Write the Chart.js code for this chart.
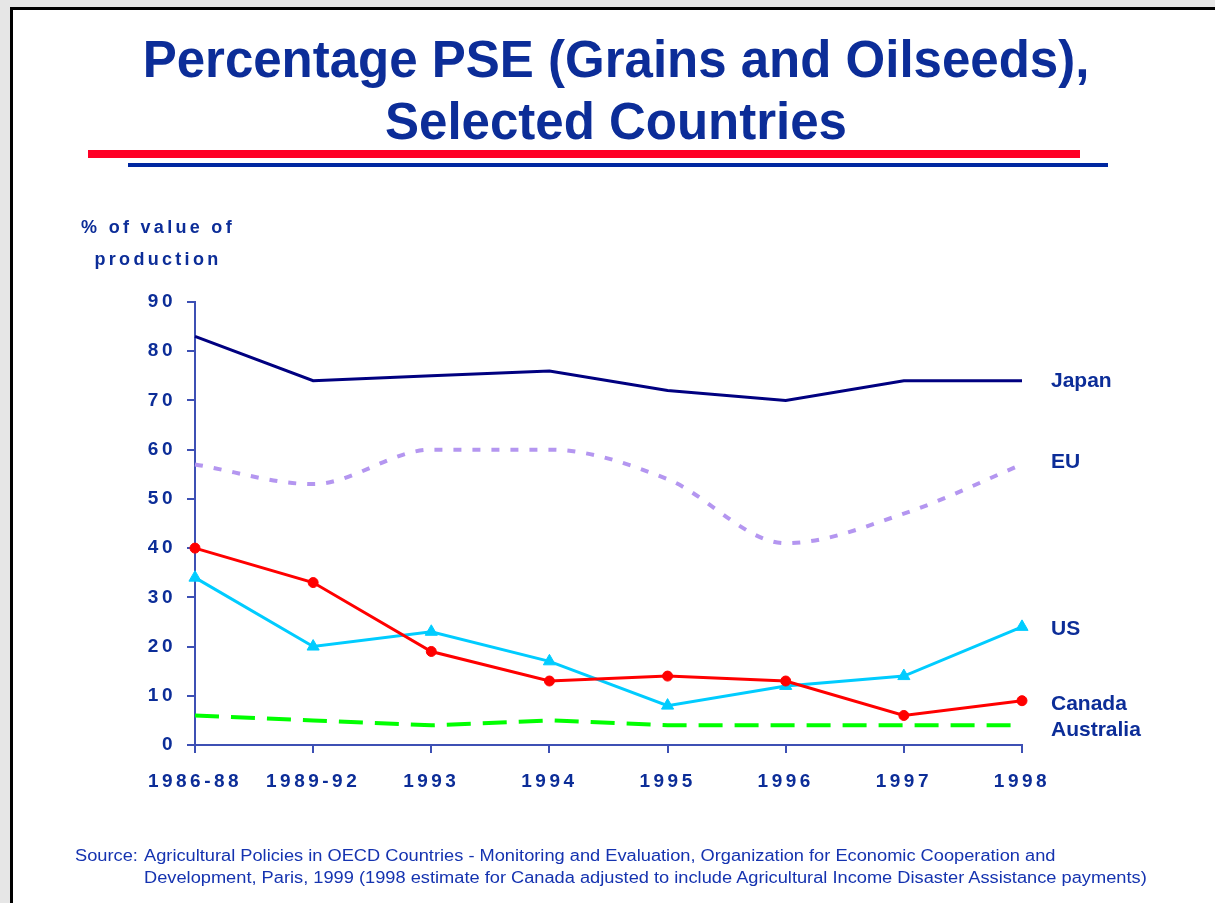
<!DOCTYPE html>
<html>
<head>
<meta charset="utf-8">
<script src="https://cdn.jsdelivr.net/npm/chart.js@4.4.1/dist/chart.umd.min.js"></script>
<style>
  html, body { margin: 0; padding: 0; background: #e6e6e6; }
  body { width: 1215px; height: 903px; position: relative; overflow: hidden; font-family: "Liberation Sans", Arial, sans-serif; }
  #panel { position: absolute; left: 10px; top: 7px; width: 1300px; height: 1000px; background: #fff; border-left: 3px solid #000; border-top: 3px solid #000; }
  #chart { position: absolute; left: 0; top: 0; }
  .title { position: absolute; left: 0; top: 29px; width: 1232px; text-align: center; color: #0c2d98; font-weight: bold; font-size: 51px; line-height: 62px; }
  .rule-red { position: absolute; left: 88px; top: 150px; width: 992px; height: 8px; background: #ff0026; }
  .rule-blue { position: absolute; left: 128px; top: 163px; width: 980px; height: 4px; background: #0027a0; }
  .ytitle { position: absolute; left: 56px; top: 211px; width: 204px; text-align: center; color: #0c2d98; font-weight: bold; font-size: 18px; line-height: 32px; letter-spacing: 3.3px; }
  .source { position: absolute; top: 845px; color: #1533b0; font-size: 16px; line-height: 22px; transform: scaleX(1.14); transform-origin: 0 0; white-space: nowrap; }
</style>
</head>
<body>
<div id="panel"></div>
<canvas id="chart" width="1215" height="903"></canvas>
<div class="title">Percentage PSE (Grains and Oilseeds),<br>Selected Countries</div>
<div class="rule-red"></div>
<div class="rule-blue"></div>
<div class="ytitle">% of value of<br>production</div>
<div class="source" style="left:75px">Source:</div>
<div class="source" style="left:144px">Agricultural Policies in OECD Countries - Monitoring and Evaluation, Organization for Economic Cooperation and<br>Development, Paris, 1999 (1998 estimate for Canada adjusted to include Agricultural Income Disaster Assistance payments)</div>

<script>
const years = ['1986-88', '1989-92', '1993', '1994', '1995', '1996', '1997', '1998'];
const japan = [83, 74, 75, 76, 72, 70, 74, 74];
const eu = [57, 53, 60, 60, 54, 41, 47, 57];
const us = [34, 20, 23, 17, 8, 12, 14, 24];
const canada = [40, 33, 19, 13, 14, 13, 6, 9];
const australia = [6, 5, 4, 5, 4, 4, 4, 4];
const yTicks = [0, 10, 20, 30, 40, 50, 60, 70, 80, 90];

// names shown at the right end, with the value where each name sits
const seriesNames = ['Japan', 'EU', 'US', 'Canada', 'Australia'];
const nameValues = [74, 57.5, 23.6, 8.3, 3];

const textBlue = '#0c2d98';
const axisBlue = '#3d50b4';

const spacing = {
    id: 'spacing',
    beforeUpdate(chart) { chart.ctx.letterSpacing = '3.5px'; },
    beforeDraw(chart) { chart.ctx.letterSpacing = '3.5px'; }
};

const endNames = {
    id: 'endNames',
    afterDraw(chart) {
        const c = chart.ctx;
        const y = chart.scales.y;
        c.save();
        c.letterSpacing = '0px';
        c.font = 'bold 21px "Liberation Sans", Arial, sans-serif';
        c.fillStyle = textBlue;
        c.textAlign = 'left';
        c.textBaseline = 'middle';
        seriesNames.forEach(function(name, i) {
            c.fillText(name, chart.chartArea.right + 29, y.getPixelForValue(nameValues[i]));
        });
        c.restore();
    }
};

new Chart(document.getElementById('chart'), {
    type: 'line',
    data: {
        labels: years,
        datasets: [
            {
                label: 'Japan', data: japan,
                borderColor: '#000080', borderWidth: 3, pointRadius: 0
            },
            {
                label: 'EU', data: eu,
                borderColor: '#b496f0', borderWidth: 4, borderDash: [8, 11],
                cubicInterpolationMode: 'monotone', pointRadius: 0
            },
            {
                label: 'Australia', data: australia,
                borderColor: '#00ff00', borderWidth: 4, borderDash: [24, 12], pointRadius: 0
            },
            {
                label: 'Canada', data: canada,
                borderColor: '#ff0000', backgroundColor: '#ff0000', borderWidth: 3,
                pointStyle: 'circle', pointRadius: 5, pointBorderWidth: 1
            },
            {
                label: 'US', data: us,
                borderColor: '#00ccff', backgroundColor: '#00ccff', borderWidth: 3,
                pointStyle: 'triangle', pointRadius: 7, pointBorderWidth: 1
            }
        ]
    },
    options: {
        responsive: false,
        animation: false,
        events: [],
        layout: {
            padding: { left: 95, right: 193, top: 302, bottom: 98 }
        },
        scales: {
            x: {
                offset: false,
                grid: { drawOnChartArea: false, color: axisBlue, lineWidth: 2, tickLength: 8 },
                border: { color: axisBlue, width: 2 },
                ticks: {
                    color: textBlue, padding: 17, maxRotation: 0, autoSkip: false,
                    font: { family: '"Liberation Sans", Arial, sans-serif', size: 19, weight: 'bold' }
                },
                afterFit: function(scale) { scale.height = 60; }
            },
            y: {
                min: 0,
                max: 90,
                afterBuildTicks: function(scale) {
                    scale.ticks = yTicks.map(function(v) { return { value: v }; });
                },
                grid: { drawOnChartArea: false, color: axisBlue, lineWidth: 2, tickLength: 8 },
                border: { color: axisBlue, width: 2 },
                ticks: {
                    color: textBlue, padding: 11,
                    font: { family: '"Liberation Sans", Arial, sans-serif', size: 19, weight: 'bold' }
                },
                afterFit: function(scale) { scale.width = 100; }
            }
        },
        plugins: {
            legend: { display: false },
            tooltip: { enabled: false }
        }
    },
    plugins: [spacing, endNames]
});
</script>
</body>
</html>
